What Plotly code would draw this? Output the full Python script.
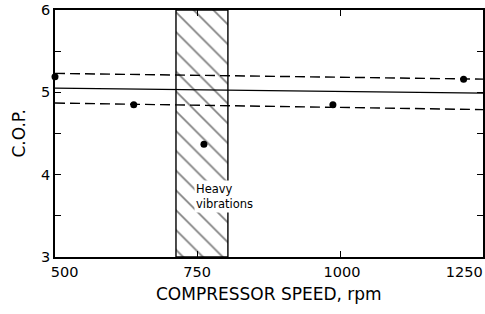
import plotly.graph_objects as go

# Data
speed_pts = [500, 638, 761, 987, 1216]
cop_pts = [5.19, 4.85, 4.37, 4.85, 5.16]

line_x = [500, 1250]
upper_band = [5.23, 5.16]
fit_line = [5.05, 4.99]
lower_band = [4.87, 4.79]

vib_lo, vib_hi = 712, 803
y_min, y_max = 3, 6

x_ticks = [500, 750, 1000, 1250]
x_tick_text = ["500", "750", "1000", "1250"]
x_label_pos = [517, 749, 1003, 1217]
y_ticks = [3, 3.5, 4, 4.5, 5, 5.5, 6]
y_tick_text = ["3", "", "4", "", "5", "", "6"]

FONT = "DejaVu Sans"

W, H = 485, 314
ML, MR, MT, MB = 55, 2, 10, 57
PW, PH = W - ML - MR, H - MT - MB

fig = go.Figure()

# hatched region of heavy vibrations
fig.add_trace(go.Scatter(
    x=[vib_lo, vib_hi, vib_hi, vib_lo, vib_lo],
    y=[y_min, y_min, y_max, y_max, y_min],
    mode="lines", fill="toself",
    fillcolor="white",
    fillpattern=dict(shape="\\", fgcolor="black", bgcolor="white", size=14, solidity=0.12),
    line=dict(color="black", width=1.4),
    hoverinfo="skip", showlegend=False,
))

fig.add_trace(go.Scatter(x=line_x, y=upper_band, mode="lines",
                         line=dict(color="black", width=1.4, dash="10px,5px"), showlegend=False))
fig.add_trace(go.Scatter(x=line_x, y=fit_line, mode="lines",
                         line=dict(color="black", width=1.2), showlegend=False))
fig.add_trace(go.Scatter(x=line_x, y=lower_band, mode="lines",
                         line=dict(color="black", width=1.4, dash="10px,5px"), showlegend=False))
fig.add_trace(go.Scatter(x=speed_pts, y=cop_pts, mode="markers",
                         marker=dict(color="black", size=7), showlegend=False, cliponaxis=False))

# invisible trace for the label axis
fig.add_trace(go.Scatter(x=[x_label_pos[0]], y=[y_min], xaxis="x2", mode="markers",
                         marker=dict(opacity=0), showlegend=False, hoverinfo="skip"))

fig.add_annotation(x=744, y=3.74, xref="x", yref="y", xanchor="left", yanchor="middle",
                   text="Heavy<br>vibrations", showarrow=False, align="left",
                   bgcolor="white", borderpad=1,
                   font=dict(family=FONT, size=11.5, color="black"))

# axis titles
fig.add_annotation(x=0.5, y=-37 / PH, xref="paper", yref="paper", yanchor="middle",
                   text="COMPRESSOR SPEED, rpm",
                   showarrow=False, font=dict(family=FONT, size=17, color="black"))
fig.add_annotation(x=-37 / PW, y=0.5, xref="paper", yref="paper", xanchor="center",
                   text="C.O.P.", textangle=-90,
                   showarrow=False, font=dict(family=FONT, size=17, color="black"))

fig.update_layout(
    width=W, height=H,
    margin=dict(l=ML, r=MR, t=MT, b=MB),
    plot_bgcolor="white", paper_bgcolor="white",
    font=dict(family=FONT, color="black"),
    xaxis=dict(range=[500, 1250], tickvals=x_ticks, showticklabels=False,
               ticks="inside", ticklen=6, tickcolor="black", automargin=False,
               showline=True, linecolor="black", linewidth=1.5, mirror="ticks",
               showgrid=False, zeroline=False),
    xaxis2=dict(range=[500, 1250], overlaying="x", side="bottom", anchor="y",
                tickvals=x_label_pos, ticktext=x_tick_text, ticks="", automargin=False,
                showline=False, showgrid=False, zeroline=False, ticklabelstandoff=4,
                tickfont=dict(size=14.5)),
    yaxis=dict(range=[y_min, y_max], tickvals=y_ticks, ticktext=y_tick_text,
               ticks="inside", ticklen=6, tickcolor="black", automargin=False,
               showline=True, linecolor="black", linewidth=1.5, mirror="ticks",
               showgrid=False, zeroline=False, tickfont=dict(size=14.5)),
)

fig.write_html("out.html", config={"displayModeBar": False},
               post_script="document.body.style.margin='0';")
